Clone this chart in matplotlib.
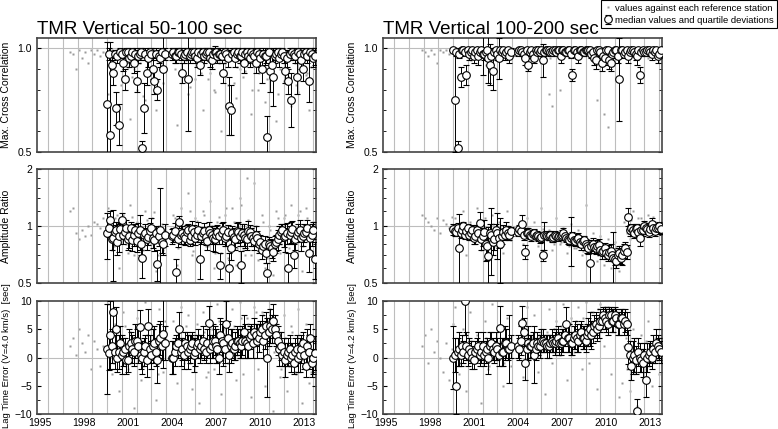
import matplotlib.pyplot as plt
import matplotlib.ticker as mticker
from matplotlib.lines import Line2D

plt.rcParams['font.family'] = ['Liberation Sans', 'DejaVu Sans']

# sample times of the medians (decimal years), shared by both period bands
t_med = [2000.0, 2000.1, 2000.2, 2000.3, 2000.4, 2000.5, 2000.6, 2000.7, 2000.8, 2000.9,
         2001.0, 2001.1, 2001.2, 2001.3, 2001.4, 2001.5, 2001.6, 2001.7, 2001.8, 2001.9,
         2002.0, 2002.1, 2002.2, 2002.3, 2002.4, 2002.5, 2002.6, 2002.7, 2002.8, 2002.9,
         2003.0, 2003.1, 2003.2, 2003.3, 2003.4, 2003.5, 2003.6, 2003.7, 2003.8, 2003.9,
         2004.4, 2004.5, 2004.6, 2004.7, 2004.8, 2004.9, 2005.0, 2005.1, 2005.2, 2005.3,
         2005.4, 2005.5, 2005.6, 2005.7, 2005.8, 2005.9, 2006.0, 2006.1, 2006.2, 2006.3,
         2006.4, 2006.5, 2006.6, 2006.7, 2006.8, 2006.9, 2007.0, 2007.1, 2007.2, 2007.3,
         2007.4, 2007.5, 2007.6, 2007.7, 2007.8, 2007.9, 2008.0, 2008.1, 2008.2, 2008.3,
         2008.4, 2008.5, 2008.6, 2008.7, 2008.8, 2008.9, 2009.0, 2009.1, 2009.2, 2009.3,
         2009.4, 2009.5, 2009.6, 2009.7, 2009.8, 2009.9, 2010.0, 2010.1, 2010.2, 2010.3,
         2010.4, 2010.5, 2010.6, 2010.7, 2010.8, 2010.9, 2011.0, 2011.1, 2011.2, 2011.3,
         2011.4, 2011.5, 2011.6, 2011.7, 2011.8, 2011.9, 2012.0, 2012.1, 2012.2, 2012.3,
         2012.4, 2012.5, 2012.6, 2012.7, 2012.8, 2012.9, 2013.0, 2013.1, 2013.2, 2013.3,
         2013.4, 2013.5, 2013.6, 2013.7, 2013.8, 2013.9, 2014.0, 2014.1]

# ---- 50-100 sec (left column) ----
corr_50 = [0.73, 0.97, 0.58, 0.92, 0.88, 0.97, 0.71, 0.96, 0.63, 0.98,
           0.97, 0.93, 0.85, 0.98, 0.98, 0.95, 0.96, 0.98, 0.93, 0.97,
           0.84, 0.96, 0.97, 0.98, 0.52, 0.71, 0.97, 0.88, 0.95, 0.98,
           0.97, 0.90, 0.84, 0.97, 0.80, 0.96, 0.95, 0.98, 0.90, 0.97,
           0.97, 0.98, 0.96, 0.96, 0.98, 0.98, 0.97, 0.88, 0.96, 0.97,
           0.98, 0.85, 0.96, 0.97, 0.98, 0.98, 0.96, 0.95, 0.98, 0.92,
           0.97, 0.98, 0.96, 0.97, 0.98, 0.98, 0.95, 0.94, 0.97, 0.98,
           0.98, 0.96, 0.97, 0.97, 0.96, 0.88, 0.98, 0.97, 0.95, 0.72,
           0.70, 0.97, 0.98, 0.95, 0.97, 0.98, 0.96, 0.96, 0.98, 0.93,
           0.97, 0.98, 0.96, 0.95, 0.98, 0.97, 0.96, 0.93, 0.98, 0.97,
           0.95, 0.90, 0.97, 0.96, 0.96, 0.57, 0.98, 0.89, 0.92, 0.86,
           0.96, 0.97, 0.98, 0.95, 0.97, 0.98, 0.96, 0.89, 0.95, 0.84,
           0.97, 0.75, 0.98, 0.97, 0.96, 0.86, 0.98, 0.97, 0.94, 0.90,
           0.97, 0.98, 0.96, 0.84, 0.98, 0.97, 0.95, 0.96]
corr_50_err = [0.30, 0.03, 0.45, 0.04, 0.06, 0.02, 0.08, 0.03, 0.10, 0.02,
               0.02, 0.04, 0.05, 0.02, 0.02, 0.04, 0.03, 0.02, 0.05, 0.03,
               0.05, 0.03, 0.03, 0.02, 0.03, 0.12, 0.03, 0.06, 0.04, 0.02,
               0.03, 0.05, 0.06, 0.03, 0.05, 0.03, 0.04, 0.02, 0.45, 0.03,
               0.03, 0.02, 0.03, 0.03, 0.02, 0.02, 0.03, 0.05, 0.03, 0.03,
               0.02, 0.25, 0.03, 0.03, 0.02, 0.02, 0.03, 0.04, 0.02, 0.05,
               0.03, 0.02, 0.03, 0.03, 0.02, 0.02, 0.04, 0.04, 0.03, 0.03,
               0.02, 0.03, 0.03, 0.03, 0.03, 0.05, 0.02, 0.03, 0.04, 0.14,
               0.12, 0.03, 0.02, 0.04, 0.03, 0.02, 0.03, 0.03, 0.02, 0.05,
               0.03, 0.02, 0.03, 0.04, 0.02, 0.03, 0.03, 0.05, 0.02, 0.03,
               0.04, 0.07, 0.03, 0.04, 0.03, 0.10, 0.02, 0.10, 0.06, 0.14,
               0.03, 0.03, 0.02, 0.04, 0.03, 0.02, 0.03, 0.06, 0.04, 0.06,
               0.03, 0.13, 0.02, 0.03, 0.03, 0.08, 0.02, 0.03, 0.04, 0.06,
               0.03, 0.02, 0.03, 0.10, 0.02, 0.03, 0.04, 0.04]
amp_50 = [0.92, 0.97, 1.08, 0.85, 0.86, 0.93, 0.95, 0.82, 0.88, 0.96,
          1.07, 0.90, 0.93, 0.98, 0.85, 0.88, 0.97, 0.84, 0.90, 0.95,
          0.83, 0.92, 0.95, 0.80, 0.68, 0.90, 0.92, 0.85, 0.87, 0.94,
          0.98, 0.86, 0.84, 0.92, 0.63, 0.88, 0.95, 0.82, 0.80, 0.90,
          0.88, 0.90, 0.94, 0.57, 0.85, 1.05, 0.90, 0.92, 0.88, 0.86,
          0.93, 0.95, 0.84, 0.88, 0.96, 0.93, 0.86, 0.90, 0.95, 0.67,
          0.88, 0.92, 0.94, 0.87, 0.83, 0.95, 0.92, 0.90, 0.86, 0.85,
          0.90, 0.93, 0.88, 0.62, 0.92, 0.95, 0.86, 0.88, 0.93, 0.60,
          0.76, 0.92, 0.87, 0.85, 0.94, 0.93, 0.88, 0.62, 0.92, 0.90,
          0.86, 0.85, 0.94, 0.93, 0.88, 0.86, 0.83, 0.90, 0.86, 0.80,
          0.82, 0.75, 0.78, 0.80, 0.72, 0.56, 0.80, 0.78, 0.76, 0.73,
          0.80, 0.82, 0.85, 0.90, 0.93, 0.95, 0.87, 0.88, 0.92, 0.60,
          0.90, 0.93, 0.96, 0.70, 0.85, 0.90, 0.93, 0.95, 0.86, 0.88,
          0.92, 0.93, 0.97, 0.72, 0.86, 0.90, 0.95, 0.67]
amp_50_err = [0.25, 0.10, 0.12, 0.10, 0.35, 0.08, 0.10, 0.12, 0.15, 0.08,
              0.10, 0.10, 0.08, 0.10, 0.10, 0.12, 0.08, 0.10, 0.12, 0.08,
              0.10, 0.12, 0.20, 0.10, 0.15, 0.08, 0.10, 0.10, 0.08, 0.10,
              0.12, 0.10, 0.10, 0.08, 0.12, 0.10, 0.65, 0.10, 0.10, 0.12,
              0.08, 0.08, 0.10, 0.10, 0.08, 0.08, 0.10, 0.08, 0.08, 0.07,
              0.08, 0.08, 0.06, 0.08, 0.10, 0.08, 0.07, 0.08, 0.10, 0.15,
              0.08, 0.07, 0.10, 0.08, 0.08, 0.10, 0.08, 0.10, 0.12, 0.12,
              0.10, 0.08, 0.08, 0.10, 0.12, 0.10, 0.08, 0.10, 0.08, 0.12,
              0.10, 0.08, 0.10, 0.10, 0.10, 0.12, 0.10, 0.12, 0.10, 0.12,
              0.10, 0.10, 0.12, 0.08, 0.10, 0.08, 0.08, 0.10, 0.08, 0.08,
              0.08, 0.08, 0.06, 0.08, 0.08, 0.08, 0.07, 0.07, 0.08, 0.08,
              0.08, 0.08, 0.10, 0.10, 0.10, 0.08, 0.10, 0.15, 0.12, 0.12,
              0.10, 0.12, 0.10, 0.10, 0.10, 0.08, 0.10, 0.12, 0.12, 0.10,
              0.10, 0.08, 0.10, 0.15, 0.12, 0.12, 0.10, 0.15]
lag_50 = [1.5, 0.8, 4.0, 2.0, 8.1, 1.0, 5.0, 0.0, 1.0, 2.5,
          0.5, 1.0, 1.5, -0.5, -0.5, 2.0, 2.5, 1.5, 1.0, 3.0,
          3.0, 2.0, 5.4, 0.5, 0.0, 1.0, 2.0, -0.5, 5.5, 1.5,
          0.5, 2.0, 2.5, 1.0, -0.5, 3.0, 3.5, 2.0, 4.2, 2.5,
          0.0, 0.0, 1.0, 2.0, 2.5, 5.0, 1.0, 1.5, 0.5, 2.5,
          2.0, 1.0, 1.5, 2.0, 2.5, 0.5, 1.0, 2.0, 2.5, 1.5,
          2.0, 3.0, 1.5, 1.0, 2.5, 6.1, 1.5, 2.0, 3.0, 3.0,
          2.0, 1.5, 0.0, 4.0, 3.0, 2.5, 1.5, 6.0, 3.5, 0.5,
          2.0, 2.5, 1.5, 2.0, 3.0, 3.0, 2.5, 2.0, 3.0, 4.5,
          3.0, 2.5, 2.0, 3.5, 4.0, 2.5, 4.5, 4.0, 3.0, 3.5,
          4.5, 5.0, 3.0, 4.0, 5.5, 0.0, 4.5, 5.5, 5.0, 6.5,
          5.0, 4.0, 3.0, 1.5, 2.0, 0.5, 1.0, -0.5, 0.5, 1.0,
          1.5, 0.0, 0.5, -1.0, 1.0, 1.5, 0.0, 0.5, 1.5, 2.5,
          0.5, -1.5, 2.0, 1.0, 3.5, -1.0, 0.0, 0.8]
lag_50_err = [8.0, 3.0, 6.0, 3.0, 3.0, 3.0, 4.0, 2.5, 3.0, 3.0,
              3.5, 2.5, 2.0, 2.5, 2.0, 3.0, 2.0, 2.5, 2.5, 3.0,
              2.0, 3.0, 3.0, 2.5, 3.0, 2.5, 2.0, 3.0, 3.0, 2.5,
              2.5, 3.0, 3.0, 2.5, 4.0, 3.0, 3.0, 2.5, 6.0, 3.0,
              3.0, 3.0, 2.5, 2.0, 2.5, 3.0, 2.5, 2.0, 2.5, 2.0,
              2.5, 3.0, 2.5, 2.0, 2.0, 3.0, 2.5, 2.0, 2.5, 2.5,
              2.0, 2.5, 2.0, 2.0, 2.5, 3.0, 2.5, 2.0, 3.0, 2.5,
              3.0, 2.5, 3.0, 3.0, 3.0, 4.0, 2.5, 4.0, 3.0, 3.0,
              3.0, 2.5, 2.0, 2.5, 2.5, 2.0, 2.5, 2.0, 2.5, 3.0,
              3.0, 2.5, 2.0, 2.0, 2.0, 2.5, 2.5, 2.0, 3.0, 2.5,
              2.0, 2.5, 3.0, 2.5, 2.5, 7.0, 2.5, 3.0, 2.5, 3.0,
              2.5, 2.0, 2.5, 3.0, 2.5, 2.0, 2.5, 3.0, 2.0, 2.5,
              2.5, 2.5, 2.0, 2.0, 2.5, 2.5, 2.5, 3.0, 2.5, 2.0,
              2.5, 2.0, 3.0, 3.0, 2.5, 2.5, 3.0, 3.0]

# individual station values (grey dots)
dot_t_50 = [1997.5, 1997.7, 1997.9, 1998.1, 1998.3, 1998.5, 1998.7, 1998.9, 1999.1, 1999.3, 1999.5, 1999.7,
            2000.05, 2000.3, 2000.55, 2000.8, 2001.05, 2001.3, 2001.55, 2001.8,
            2002.05, 2002.3, 2002.55, 2002.8, 2003.05, 2003.3, 2003.55, 2003.8,
            2004.5, 2004.75, 2005.0, 2005.25, 2005.5, 2005.75, 2006.0, 2006.25, 2006.5, 2006.75,
            2007.0, 2007.25, 2007.5, 2007.75, 2008.0, 2008.25, 2008.5, 2008.75, 2009.0, 2009.25,
            2009.5, 2009.75, 2010.0, 2010.25, 2010.5, 2010.75, 2011.0, 2011.25, 2011.5, 2011.75,
            2012.0, 2012.25, 2012.5, 2012.75, 2013.0, 2013.25, 2013.5, 2013.75, 2014.0,
            2000.2, 2000.45, 2000.7, 2000.95, 2001.2, 2001.45, 2001.7, 2001.95,
            2002.2, 2002.45, 2002.7, 2002.95, 2003.2, 2003.45, 2003.7, 2003.95,
            2004.6, 2004.85, 2005.1, 2005.35, 2005.6, 2005.85, 2006.1, 2006.35, 2006.6, 2006.85,
            2007.1, 2007.35, 2007.6, 2007.85, 2008.1, 2008.35, 2008.6, 2008.85, 2009.1, 2009.35,
            2009.6, 2009.85, 2010.1, 2010.35, 2010.6, 2010.85, 2011.1, 2011.35, 2011.6, 2011.85,
            2012.1, 2012.35, 2012.6, 2012.85, 2013.1, 2013.35, 2013.6, 2013.85, 2014.1]
dot_corr_50 = [0.98, 0.97, 0.90, 0.99, 0.95, 0.98, 0.93, 0.99, 0.97, 0.99, 0.96, 0.98,
               0.78, 0.99, 0.93, 0.72, 0.85, 0.99, 0.66, 0.90, 0.80, 0.97,
               0.75, 0.95, 0.88, 0.70, 0.96, 0.83, 0.98, 0.63, 0.90, 0.95,
               0.78, 0.99, 0.85, 0.92, 0.70, 0.97, 0.88, 0.80, 0.95, 0.60,
               0.93, 0.82, 0.99, 0.76, 0.90, 0.86, 0.96, 0.68, 0.92, 0.80,
               0.98, 0.74, 0.88, 0.95, 0.65, 0.90, 0.84, 0.97, 0.72, 0.93,
               0.79, 0.99, 0.87, 0.70, 0.94,
               0.95, 0.88, 0.99, 0.82, 0.97, 0.91, 0.86, 0.98, 0.93, 0.77,
               0.96, 0.89, 0.99, 0.84, 0.92, 0.97, 0.90, 0.98, 0.86, 0.94,
               0.81, 0.97, 0.92, 0.88, 0.99, 0.85, 0.95, 0.79, 0.93, 0.97,
               0.87, 0.99, 0.83, 0.91, 0.96, 0.89, 0.98, 0.80, 0.94, 0.88,
               0.97, 0.85, 0.92, 0.99, 0.78, 0.95, 0.90, 0.86, 0.98, 0.82,
               0.93, 0.96, 0.88, 0.91, 0.97]
dot_amp_50 = [1.20, 1.25, 0.92, 0.85, 0.95, 0.88, 1.00, 0.90, 1.05, 1.02, 0.97, 1.10,
              1.25, 0.75, 1.10, 0.60, 1.15, 0.80, 1.30, 0.70, 1.05, 0.65,
              1.20, 0.85, 1.10, 0.58, 1.00, 0.75, 1.15, 0.62, 1.25, 0.80,
              1.50, 0.70, 1.10, 0.65, 1.20, 0.78, 1.35, 0.60, 1.05, 0.72,
              1.15, 0.68, 1.25, 0.62, 1.40, 0.75, 1.80, 0.70, 1.70, 0.66,
              1.15, 0.60, 1.00, 0.55, 1.20, 0.72, 1.10, 0.62, 1.30, 0.68,
              1.15, 0.58, 1.25, 0.70, 1.05,
              1.05, 0.78, 1.15, 0.82, 0.98, 0.72, 1.12, 0.85, 1.00, 0.75,
              1.08, 0.80, 1.18, 0.70, 1.02, 0.88, 1.10, 0.76, 0.98, 0.84,
              1.20, 0.74, 1.06, 0.82, 1.15, 0.78, 1.00, 0.72, 1.12, 0.86,
              1.25, 0.80, 1.05, 0.76, 1.30, 0.70, 1.08, 0.82, 1.00, 0.74,
              1.05, 0.68, 0.95, 0.72, 1.10, 0.80, 1.15, 0.76, 1.05, 0.84,
              1.20, 0.78, 1.10, 0.74, 1.00]
dot_lag_50 = [2.0, 3.5, 0.5, 5.0, 2.5, 1.0, 4.0, -2.0, 3.0, 1.5, -1.5, 2.0,
              9.5, -3.0, 6.0, -6.0, 8.0, -1.5, 4.5, -9.0, 7.0, -4.0,
              9.8, 0.0, 5.5, -7.5, 8.5, -2.5, 6.5, -4.5, 9.0, -1.0,
              7.5, -5.5, 4.0, -8.0, 8.0, -3.5, 6.0, -2.0, 9.5, -6.5,
              5.0, -1.0, 8.5, -4.0, 9.8, -3.0, 7.0, -7.0, 9.0, -2.0,
              8.0, -5.0, 6.5, -9.5, 4.5, -3.5, 7.5, -6.0, 5.5, -2.5,
              8.5, -8.0, 6.0, -4.5, 3.5,
              3.5, -1.0, 4.5, 0.0, 5.5, -2.0, 3.0, 1.0, 6.0, -1.5,
              4.0, 0.5, 5.0, -3.0, 2.5, 6.5, -0.5, 4.0, 1.5, 5.5,
              -1.0, 3.5, 6.0, 0.0, 4.5, -2.5, 5.0, 1.0, 6.5, -0.5,
              4.0, 2.0, 5.5, 0.5, 7.0, 1.5, 6.0, 2.5, 8.0, 3.0,
              7.5, 2.0, 8.5, 1.0, 4.0, -2.0, 3.5, -1.5, 4.5, -3.0,
              3.0, -0.5, 4.0, -2.5, 2.5]

# ---- 100-200 sec (right column) ----
corr_100 = [0.99, 0.75, 0.98, 0.52, 0.97, 0.86, 0.99, 0.99, 0.98, 0.87,
            0.99, 0.97, 0.98, 0.99, 0.96, 0.98, 0.99, 0.96, 0.98, 0.99,
            0.97, 0.97, 0.98, 0.99, 0.95, 0.92, 0.96, 0.89, 0.98, 0.99,
            0.97, 0.95, 0.99, 0.98, 0.99, 0.97, 0.98, 0.99, 0.96, 0.98,
            0.98, 0.99, 0.99, 0.98, 0.97, 0.95, 0.99, 0.92, 0.98, 0.99,
            0.97, 0.95, 0.99, 0.98, 0.99, 0.98, 0.99, 0.94, 0.98, 0.99,
            0.99, 0.99, 0.98, 0.98, 0.99, 0.99, 0.98, 0.99, 0.99, 0.96,
            0.99, 0.99, 0.98, 0.98, 0.99, 0.99, 0.97, 0.87, 0.99, 0.99,
            0.98, 0.96, 0.99, 0.99, 0.98, 0.98, 0.99, 0.99, 0.99, 0.99,
            0.97, 0.98, 0.95, 0.94, 0.99, 0.99, 0.98, 0.93, 0.96, 0.95,
            0.99, 0.99, 0.94, 0.93, 0.97, 0.98, 0.99, 0.99, 0.96, 0.85,
            0.99, 0.99, 0.97, 0.98, 0.99, 0.96, 0.98, 0.99, 0.99, 0.98,
            0.97, 0.96, 0.99, 0.87, 0.98, 0.99, 0.98, 0.98, 0.99, 0.99,
            0.98, 0.97, 0.99, 0.98, 0.99, 0.96, 0.97, 0.99]
corr_100_err = [0.01, 0.25, 0.02, 0.03, 0.02, 0.05, 0.01, 0.01, 0.02, 0.05,
                0.01, 0.03, 0.02, 0.01, 0.03, 0.02, 0.01, 0.04, 0.02, 0.01,
                0.10, 0.03, 0.02, 0.01, 0.12, 0.10, 0.04, 0.09, 0.02, 0.01,
                0.03, 0.10, 0.01, 0.02, 0.01, 0.03, 0.02, 0.01, 0.03, 0.02,
                0.02, 0.01, 0.01, 0.02, 0.02, 0.03, 0.01, 0.03, 0.02, 0.01,
                0.02, 0.02, 0.01, 0.02, 0.01, 0.02, 0.01, 0.08, 0.02, 0.01,
                0.01, 0.01, 0.02, 0.02, 0.01, 0.01, 0.02, 0.01, 0.01, 0.03,
                0.01, 0.01, 0.02, 0.02, 0.01, 0.01, 0.02, 0.03, 0.01, 0.01,
                0.02, 0.03, 0.01, 0.01, 0.02, 0.02, 0.01, 0.01, 0.01, 0.01,
                0.02, 0.02, 0.03, 0.04, 0.01, 0.01, 0.02, 0.04, 0.03, 0.03,
                0.01, 0.01, 0.04, 0.04, 0.02, 0.02, 0.01, 0.01, 0.03, 0.20,
                0.01, 0.01, 0.02, 0.02, 0.01, 0.03, 0.02, 0.01, 0.01, 0.02,
                0.03, 0.04, 0.01, 0.04, 0.02, 0.01, 0.02, 0.02, 0.01, 0.01,
                0.02, 0.03, 0.01, 0.02, 0.01, 0.03, 0.02, 0.01]
amp_100 = [0.96, 0.94, 0.93, 0.98, 0.76, 0.92, 0.95, 1.00, 0.90, 0.94,
           0.98, 0.90, 0.92, 0.95, 0.86, 0.88, 0.95, 0.92, 1.04, 0.85,
           0.88, 0.93, 0.80, 0.78, 0.69, 0.92, 0.90, 0.82, 0.85, 0.95,
           0.92, 0.86, 0.80, 0.88, 0.93, 0.90, 0.95, 0.92, 0.90, 0.94,
           0.93, 0.96, 0.94, 1.03, 0.90, 0.73, 0.92, 0.92, 0.90, 0.88,
           0.91, 0.92, 0.89, 0.90, 0.88, 0.86, 0.87, 0.70, 0.90, 0.90,
           0.89, 0.88, 0.90, 0.86, 0.87, 0.90, 0.88, 0.87, 0.88, 0.88,
           0.90, 0.92, 0.88, 0.86, 0.85, 0.84, 0.86, 0.88, 0.84, 0.83,
           0.85, 0.86, 0.82, 0.80, 0.83, 0.84, 0.80, 0.78, 0.76, 0.64,
           0.78, 0.80, 0.77, 0.76, 0.78, 0.79, 0.75, 0.73, 0.74, 0.76,
           0.72, 0.70, 0.73, 0.74, 0.70, 0.68, 0.67, 0.65, 0.70, 0.72,
           0.68, 0.70, 0.74, 0.76, 0.73, 1.12, 0.95, 0.97, 0.95, 0.92,
           0.96, 0.97, 0.93, 0.86, 0.95, 0.95, 1.00, 0.98, 0.96, 0.93,
           0.96, 1.02, 0.98, 0.94, 0.97, 0.98, 1.00, 0.96]
amp_100_err = [0.06, 0.05, 0.05, 0.06, 0.40, 0.06, 0.06, 0.05, 0.05, 0.05,
               0.05, 0.06, 0.08, 0.06, 0.06, 0.08, 0.06, 0.08, 0.15, 0.10,
               0.10, 0.15, 0.15, 0.12, 0.30, 0.10, 0.35, 0.12, 0.10, 0.08,
               0.25, 0.10, 0.30, 0.08, 0.08, 0.06, 0.10, 0.08, 0.06, 0.05,
               0.05, 0.05, 0.06, 0.12, 0.06, 0.06, 0.06, 0.05, 0.05, 0.05,
               0.04, 0.04, 0.04, 0.04, 0.05, 0.05, 0.05, 0.05, 0.15, 0.04,
               0.04, 0.04, 0.04, 0.04, 0.05, 0.04, 0.04, 0.04, 0.04, 0.04,
               0.05, 0.05, 0.04, 0.04, 0.05, 0.05, 0.25, 0.05, 0.05, 0.05,
               0.06, 0.06, 0.05, 0.05, 0.06, 0.05, 0.05, 0.06, 0.05, 0.15,
               0.06, 0.06, 0.05, 0.05, 0.06, 0.06, 0.05, 0.06, 0.05, 0.05,
               0.05, 0.05, 0.06, 0.06, 0.05, 0.25, 0.05, 0.05, 0.06, 0.06,
               0.05, 0.08, 0.06, 0.06, 0.06, 0.12, 0.06, 0.06, 0.06, 0.06,
               0.06, 0.06, 0.06, 0.08, 0.06, 0.06, 0.06, 0.06, 0.05, 0.06,
               0.05, 0.08, 0.06, 0.05, 0.06, 0.06, 0.05, 0.05]
lag_100 = [0.0, 0.5, -5.0, 1.0, 1.5, 0.5, 2.0, 1.0, 10.0, 2.0,
           0.5, 1.5, 1.0, 0.0, -0.5, 1.0, 1.5, 2.0, 0.5, 1.0,
           2.0, 0.5, 1.0, 1.5, 0.0, 2.0, 2.5, 1.5, 1.0, 2.0,
           1.5, 0.5, 5.2, 1.0, 1.0, 2.5, 2.5, 1.5, 1.5, 2.0,
           2.0, 1.5, 3.0, 6.1, 4.5, -0.9, 1.5, 2.5, 2.0, 2.0,
           2.5, 0.5, 1.5, 2.5, 2.0, 2.0, 3.0, 3.0, 2.5, 2.5,
           2.0, 2.0, 2.5, 3.0, 2.5, 2.5, 3.0, 3.5, 2.5, 2.5,
           3.0, 3.0, 4.0, 6.0, 3.5, 3.5, 2.5, 2.5, 3.5, 4.0,
           3.5, 3.0, 4.0, 4.5, 3.5, 3.5, 3.0, 4.0, 4.5, 5.0,
           4.0, 4.5, 5.5, 6.0, 5.0, 5.5, 6.5, 6.5, 7.5, 7.0,
           6.5, 6.0, 7.5, 7.5, 6.5, 6.5, 7.5, 7.0, 6.0, 6.0,
           7.0, 7.0, 6.0, 6.5, 6.0, 1.9, 0.5, -1.5, 0.0, 0.5,
           -0.5, -9.4, 1.0, 0.0, -0.5, -1.0, 0.5, -4.0, 0.0, 0.5,
           1.0, 0.0, 1.5, 1.0, 2.5, 2.0, 1.5, 1.0]
lag_100_err = [5.5, 3.0, 5.0, 2.5, 3.0, 2.0, 2.0, 2.0, 6.0, 2.5,
               2.0, 2.0, 2.0, 2.0, 1.5, 2.0, 2.0, 2.5, 2.0, 2.0,
               2.5, 2.0, 2.0, 2.0, 3.0, 2.5, 2.0, 2.0, 2.0, 2.5,
               2.0, 2.0, 4.0, 2.5, 2.5, 3.0, 2.5, 2.0, 6.0, 2.0,
               2.0, 2.0, 2.5, 3.0, 2.5, 3.0, 2.0, 3.0, 2.0, 2.0,
               2.0, 5.0, 2.0, 2.0, 1.5, 2.0, 2.0, 2.0, 1.5, 1.5,
               2.0, 2.0, 1.5, 2.0, 1.5, 2.0, 2.0, 2.0, 2.0, 2.0,
               2.0, 2.0, 2.0, 3.0, 2.5, 2.5, 2.0, 2.0, 2.0, 2.5,
               2.5, 2.0, 2.0, 2.0, 2.0, 2.0, 2.0, 2.0, 2.5, 3.0,
               2.5, 2.0, 2.0, 2.0, 2.0, 2.0, 2.0, 1.5, 1.5, 2.0,
               2.0, 2.0, 1.5, 1.5, 2.0, 2.0, 1.5, 1.5, 2.0, 2.0,
               1.5, 1.5, 2.0, 2.0, 2.0, 3.0, 2.5, 2.5, 3.0, 3.0,
               2.5, 2.0, 2.5, 2.5, 2.0, 2.5, 2.0, 3.0, 2.5, 2.0,
               2.0, 2.0, 2.5, 2.0, 2.5, 2.0, 2.0, 2.0]

dot_t_100 = [1997.9, 1998.1, 1998.3, 1998.5, 1998.7, 1998.9, 1999.1, 1999.3, 1999.5, 1999.7, 1999.9, 2000.0,
             2000.15, 2000.4, 2000.65, 2000.9, 2001.15, 2001.4, 2001.65, 2001.9,
             2002.15, 2002.4, 2002.65, 2002.9, 2003.15, 2003.4, 2003.65, 2003.9,
             2004.5, 2004.75, 2005.0, 2005.25, 2005.5, 2005.75, 2006.0, 2006.25, 2006.5, 2006.75,
             2007.0, 2007.25, 2007.5, 2007.75, 2008.0, 2008.25, 2008.5, 2008.75, 2009.0, 2009.25,
             2009.5, 2009.75, 2010.0, 2010.25, 2010.5, 2010.75, 2011.0, 2011.25, 2011.5, 2011.75,
             2012.0, 2012.25, 2012.5, 2012.75, 2013.0, 2013.25, 2013.5, 2013.75, 2014.0,
             2000.2, 2000.45, 2000.7, 2000.95, 2001.2, 2001.45, 2001.7, 2001.95,
             2002.2, 2002.45, 2002.7, 2002.95, 2003.2, 2003.45, 2003.7, 2003.95,
             2004.6, 2004.85, 2005.1, 2005.35, 2005.6, 2005.85, 2006.1, 2006.35, 2006.6, 2006.85,
             2007.1, 2007.35, 2007.6, 2007.85, 2008.1, 2008.35, 2008.6, 2008.85, 2009.1, 2009.35,
             2009.6, 2009.85, 2010.1, 2010.35, 2010.6, 2010.85, 2011.1, 2011.35, 2011.6, 2011.85,
             2012.1, 2012.35, 2012.6, 2012.85, 2013.1, 2013.35, 2013.6, 2013.85, 2014.1]
dot_corr_100 = [0.99, 0.98, 0.96, 0.99, 0.97, 0.93, 0.99, 0.98, 0.99, 0.97, 0.99, 0.98,
                0.99, 0.98, 0.97, 0.99, 0.95, 0.98, 0.99, 0.96, 0.99, 0.97,
                0.99, 0.94, 0.98, 0.99, 0.97, 0.99, 0.98, 0.96, 0.99, 0.98,
                0.99, 0.97, 0.93, 0.99, 0.78, 0.72, 0.99, 0.80, 0.98, 0.99,
                0.97, 0.99, 0.96, 0.99, 0.98, 0.99, 0.97, 0.75, 0.99, 0.68,
                0.62, 0.99, 0.98, 0.97, 0.99, 0.96, 0.99, 0.98, 0.99, 0.97,
                0.99, 0.95, 0.99, 0.98, 0.99,
                0.99, 0.96, 0.98, 0.99, 0.94, 0.99, 0.97, 0.99, 0.92, 0.98,
                0.99, 0.96, 0.99, 0.98, 0.95, 0.99, 0.98, 0.99, 0.97, 0.99,
                0.96, 0.99, 0.98, 0.99, 0.95, 0.99, 0.97, 0.99, 0.98, 0.99,
                0.96, 0.99, 0.98, 0.97, 0.99, 0.95, 0.99, 0.98, 0.99, 0.97,
                0.99, 0.94, 0.99, 0.98, 0.99, 0.96, 0.99, 0.98, 0.99, 0.97,
                0.99, 0.98, 0.96, 0.99, 0.98]
dot_amp_100 = [1.15, 1.10, 1.05, 1.00, 0.95, 1.10, 0.92, 1.08, 1.02, 0.98, 1.12, 0.96,
               1.10, 0.80, 1.20, 0.70, 1.05, 0.85, 1.25, 0.75, 1.10, 0.90,
               1.15, 0.78, 1.05, 0.72, 1.20, 0.88, 1.00, 0.80, 1.10, 0.92,
               1.05, 0.78, 1.25, 0.85, 0.95, 0.75, 1.10, 0.80, 0.98, 0.72,
               1.02, 0.76, 0.95, 0.70, 1.30, 0.80, 0.92, 0.65, 0.88, 0.62,
               0.85, 0.60, 0.82, 0.58, 0.78, 1.15, 0.85, 1.20, 0.90, 1.10,
               0.88, 1.15, 0.92, 1.05, 0.95,
               0.98, 0.88, 1.05, 0.85, 1.00, 0.90, 1.08, 0.82, 0.95, 0.86,
               1.02, 0.80, 0.98, 0.88, 1.00, 0.84, 0.96, 0.92, 0.98, 0.86,
               0.95, 0.82, 0.96, 0.84, 0.94, 0.80, 0.92, 0.82, 0.90, 0.78,
               0.88, 0.76, 0.86, 0.74, 0.84, 0.72, 0.82, 0.70, 0.80, 0.68,
               0.78, 0.66, 0.76, 0.70, 1.05, 0.92, 1.08, 0.95, 1.10, 0.90,
               1.05, 0.94, 1.12, 0.92, 1.02]
dot_lag_100 = [2.0, 4.0, -1.0, 5.0, 1.0, 3.0, 0.0, -2.5, 2.5, -4.0, 1.5, 6.0,
               9.0, -3.0, 5.0, -6.0, 8.0, -1.0, 4.0, -8.0, 6.5, -2.0,
               9.5, 0.5, 5.5, -5.0, 7.0, -1.5, 6.0, -3.5, 9.0, 0.0,
               7.5, -2.5, 4.5, -6.5, 8.5, -1.0, 6.5, 0.5, 9.5, -4.0,
               7.0, 1.0, 9.0, -2.0, 9.8, -1.0, 8.0, -5.5, 9.5, 2.0,
               9.0, -3.0, 8.5, -7.0, -4.5, 3.5, -6.0, 5.0, -8.5, 4.0,
               -2.0, 6.5, -5.0, 3.5, -3.0,
               1.5, -1.0, 2.5, 0.0, 3.0, -0.5, 2.0, 1.0, 3.5, -1.5,
               2.5, 0.5, 3.0, -1.0, 2.0, 3.5, 1.0, 4.0, 2.0, 3.5,
               1.5, 4.0, 2.5, 4.5, 2.0, 5.0, 3.0, 5.5, 2.5, 6.0,
               3.5, 6.5, 4.0, 7.0, 5.0, 8.0, 5.5, 8.5, 6.0, 9.0,
               6.5, 8.0, 5.5, 7.5, 2.0, -2.0, 1.5, -2.5, 2.5, -1.0,
               3.0, -1.5, 2.0, -0.5, 3.5]

years = [1995, 1998, 2001, 2004, 2007, 2010, 2013]

fig = plt.figure(figsize=(7.78, 4.29), dpi=100)

col_x = [37 / 778, 383 / 778]
ax_w = 279 / 778
rows = [(1 - 151.7 / 429, 114 / 429), (1 - 282.7 / 429, 113.4 / 429), (1 - 414 / 429, 113 / 429)]

grid_c = '#bdbdbd'
dot_c = '#9a9a9a'


def panel(ax, t, v, e, dt, dv, ref):
    ax.set_xlim(1995.23, 2014.2)
    ax.set_xticks([y + 0.4 for y in years])
    ax.set_xticklabels([str(y) for y in years])
    ax.set_xticks(range(1996, 2015), minor=True)
    ax.grid(True, which='minor', axis='x', color=grid_c, lw=0.8, zorder=0)
    ax.axhline(ref, color=grid_c, lw=0.8, zorder=0)
    ax.tick_params(axis='x', which='both', length=0, labelsize=7.5, pad=3)
    ax.tick_params(axis='y', which='both', direction='in', right=True, labelsize=7.5)
    ax.tick_params(axis='y', which='major', length=3)
    ax.tick_params(axis='y', which='minor', length=2)
    for s in ax.spines.values():
        s.set_color('#444444')
        s.set_linewidth(1.2)
    ax.plot(dt, dv, 's', ms=1.6, color=dot_c, mec='none', zorder=1)
    eb = ax.errorbar(t, v, yerr=e, fmt='o', ms=5.5, mfc='white', mec='black', mew=0.8,
                     ecolor='black', elinewidth=0.7, capsize=2, capthick=0.7, zorder=3)
    return eb


cols = [
    ('TMR Vertical 50-100 sec', corr_50, corr_50_err, amp_50, amp_50_err, lag_50, lag_50_err,
     dot_t_50, dot_corr_50, dot_amp_50, dot_lag_50, 'Lag Time Error (V=4.0 km/s)  [sec]'),
    ('TMR Vertical 100-200 sec', corr_100, corr_100_err, amp_100, amp_100_err, lag_100, lag_100_err,
     dot_t_100, dot_corr_100, dot_amp_100, dot_lag_100, 'Lag Time Error (V=4.2 km/s)  [sec]'),
]

eb_handle = None
for ci, (title, c, ce, a, ae, l, le, dt, dc, da, dl, lag_label) in enumerate(cols):
    ax1 = fig.add_axes([col_x[ci], rows[0][0], ax_w, rows[0][1]])
    eb_handle = panel(ax1, t_med, c, ce, dt, dc, 1.0)
    ax1.set_ylim(0.5, 1.05)
    ax1.set_yticks([0.5, 1.0])
    ax1.set_yticklabels(['0.5', '1.0'])
    ax1.yaxis.set_minor_locator(mticker.FixedLocator([0.6, 0.7, 0.8, 0.9]))
    ax1.set_ylabel('Max. Cross Correlation', fontsize=7.5)
    ax1.set_title(title, loc='left', fontsize=13.5, pad=3)
    ax1.set_xticklabels([])

    ax2 = fig.add_axes([col_x[ci], rows[1][0], ax_w, rows[1][1]])
    ax2.set_yscale('log')
    panel(ax2, t_med, a, ae, dt, da, 1.0)
    ax2.set_ylim(0.5, 2)
    ax2.set_yticks([0.5, 1, 2])
    ax2.set_yticklabels(['0.5', '1', '2'])
    ax2.yaxis.set_minor_locator(mticker.FixedLocator([0.6, 0.7, 0.8, 0.9, 1.2, 1.4, 1.6, 1.8]))
    ax2.yaxis.set_minor_formatter(mticker.NullFormatter())
    ax2.set_ylabel('Amplitude Ratio', fontsize=7.5)
    ax2.set_xticklabels([])

    ax3 = fig.add_axes([col_x[ci], rows[2][0], ax_w, rows[2][1]])
    panel(ax3, t_med, l, le, dt, dl, 0.0)
    ax3.set_ylim(-10, 10)
    ax3.set_yticks([-10, -5, 0, 5, 10])
    ax3.yaxis.set_minor_locator(mticker.MultipleLocator(2.5))
    ax3.set_ylabel(lag_label, fontsize=6.8)

    ax1.yaxis.set_label_coords(-0.093, 0.5)
    ax2.yaxis.set_label_coords(-0.093, 0.5)
    ax3.yaxis.set_label_coords(-0.093, 0.52)

dot_handle = Line2D([], [], marker='s', ms=1.6, color=dot_c, mec='none', linestyle='none')
leg = fig.legend([dot_handle, eb_handle],
                 ['values against each reference station', 'median values and quartile deviations'],
                 loc='upper right', bbox_to_anchor=(0.999, 0.999), fontsize=6.8,
                 frameon=True, fancybox=False, edgecolor='black', framealpha=1,
                 borderpad=0.35, handlelength=0.8, handletextpad=0.4, labelspacing=0.3,
                 borderaxespad=0)
leg.get_frame().set_linewidth(0.8)

fig.savefig('out.png', dpi=100)
